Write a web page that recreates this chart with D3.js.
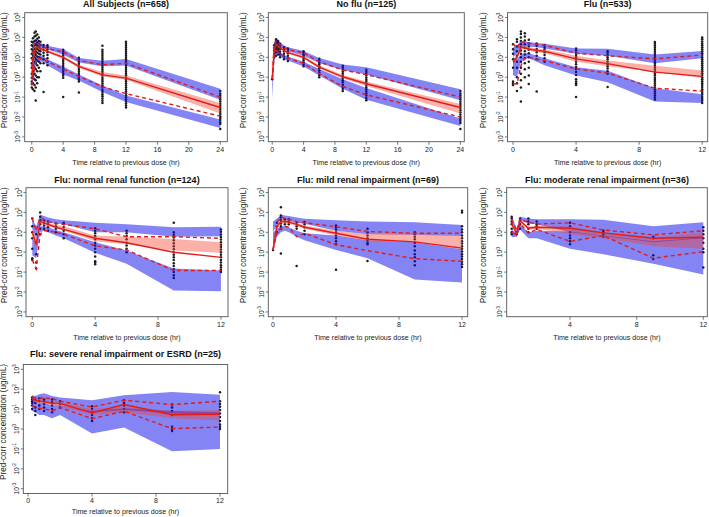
<!DOCTYPE html>
<html><head><meta charset="utf-8">
<script src="https://cdn.jsdelivr.net/npm/d3@7"></script>
<style>body{margin:0;background:#fff} svg{display:block}</style>
</head><body><svg id="c" width="709" height="517"></svg>
<script>
// ---------------- DATA ----------------
const panelTitles = [
  "All Subjects (n=658)", "No flu (n=125)", "Flu (n=533)",
  "Flu: normal renal function (n=124)", "Flu: mild renal impairment (n=69)",
  "Flu: moderate renal impairment (n=36)", "Flu: severe renal impairment or ESRD (n=25)"
];
const xDomains = [[-0.9,24.9],[-0.5,24.5],[-0.35,12.35],[-0.4,12.45],[-0.3,12.36],[0.2,12.24],[-0.3,12.48]];
const xTicks = [[0,4,8,12,16,20,24],[0,4,8,12,16,20,24],[0,4,8,12],[0,4,8,12],[0,4,8,12],[4,8,12],[0,4,8,12]];
const yTickExps = [-3,-2,-1,0,1,2,3];
const xLabel = "Time relative to previous dose (hr)";
const yLabel = "Pred-corr concentration (ug/mL)";

const binTimes = [
  [0,0.25,0.5,0.75,1,1.5,2,4,6,9,12,24],
  [0,0.25,0.5,0.75,1,1.5,2,4,6,9,12,24],
  [0,0.25,0.5,0.75,1,1.5,2,4,6,9,12],
  [0,0.25,0.5,0.75,1,1.5,2,4,6,9,12],
  [0,0.25,0.5,0.75,1,1.5,2,4,6,9,12],
  [0.5,0.8,1,1.5,2,4,6,9,12],
  [0.25,0.45,0.7,1,1.5,2,4,6,9,12]
];
const obsMedian = [
  [0.8,12,30,32,28,24,20,10,3.5,1.3,0.9,0.03],
  [0.8,25,45,38,30,22,17,10,3.2,1.05,0.47,0.03],
  [5.6,10,32,30,26,22,20,8.3,4.8,1.8,1.1],
  [10,2.5,35,30,25,18,14,5,3,1,0.55],
  [1.3,20,35,35,33,25,18,9,4.5,3.3,1.6],
  [26,8.5,38,16,18,16,9.3,5,5.6],
  [34,28,25,23,19,19,6.5,17,5.2,5.5]
];
const obsP95 = [
  [3,40,55,50,42,32,27,19,7,4.2,5,0.1],
  [0.8,45,65,55,42,30,24,17,6,2.3,1.35,0.1],
  [50,28,60,55,50,45,40,16,12,8.3,13],
  [50,12,55,42,35,28,25,15,6,6,5],
  [1.3,30,60,50,45,35,30,19,11,8.9,8.9],
  [46,12,45,32,26,30,13,7.4,12],
  [41,37,36,35,34,25,12.7,28,16.7,25]
];
const obsP5 = [
  [0.4,1.5,6,9,9,8,6,2.6,1.1,0.33,0.15,0.011],
  [0.8,10,22,18,15,11,9,5,1.5,0.34,0.13,0.01],
  [0.45,0.47,3.8,9,10,8,6.8,2.6,1.6,0.28,0.2],
  [0.4,0.15,8,12,12,10,8,2.1,1.3,0.12,0.12],
  [1.3,10,15,20,18,6,9,2.4,1.2,0.47,0.35],
  [10,7,28,9,14,3.5,6.8,0.5,1.07],
  [15.5,12.7,11,10.5,8,12,3.3,7.8,1.04,1.26]
];
const ciP95Lo = [
  [1.5,25,45,40,35,28,25,13.5,5.4,3.6,3.9,0.074],
  [0.5,35,55,45,35,26,21,12,5,2.3,1.35,0.07],
  [10,15,35,35,35,32,28,15,12,5,9],
  [15,5,40,35,30,28,25,10,10,6,6.3],
  [10,25,45,40,38,30,27,12,8,7.5,6.5],
  [30,10,40,28,25,10,6.5,3.2,5],
  [22,22,22,22,20,18,7,9,6,5]
];
const ciP95Hi = [
  [5,60,80,70,55,45,38,26,9.3,6.8,8.3,0.26],
  [0.9,60,85,70,55,40,32,21,9.3,4.3,3.2,0.25],
  [30,40,65,62,58,52,48,28,27,14,21],
  [45,20,75,65,55,45,40,30,25,18,19],
  [35,50,75,70,65,55,48,40,35,32,23],
  [68,15,60,50,45,45,43,20,32],
  [50,45,55,62,45,38,28,49,72,52]
];
const ciP5Lo = [
  [0.3,1,4,6,6,6,4,1.35,0.68,0.18,0.056,0.0028],
  [0.08,6,15,13,11,8,7,3.4,1.2,0.26,0.074,0.0035],
  [1.3,1,6,8,9,6,4,1.2,0.55,0.06,0.05],
  [0.7,0.5,10,12,10,7,5,0.93,0.26,0.012,0.011],
  [1.2,6,10,12,10,6,4,1.3,0.5,0.043,0.03],
  [5.6,6,14,5,5,1.5,0.8,0.26,0.076],
  [8,7,5,5,3.5,5,0.6,1.2,0.076,0.1]
];
const ciP5Hi = [
  [1,4,10,12,12,11,8,3.4,1.35,0.38,0.12,0.0075],
  [0.5,14,28,22,18,13,11,6,2.6,0.8,0.29,0.0085],
  [10,8,14,16,16,12,9,3.2,2.1,0.28,0.14],
  [5,3,20,20,18,13,10,3.2,1.2,0.15,0.12],
  [10,15,20,20,18,12,9,7,4,3.2,1.4],
  [14,9,25,10,12,11,7,3.6,5.5],
  [24,22,20,20,15,16,8,11,8,7]
];
const ciMedLo = [
  [0.6,9,25,27,24,20,17,8.2,2.9,1.07,0.74,0.015],
  [0.7,20,38,32,26,19,15,8.5,2.7,0.85,0.36,0.015],
  [4,7,25,24,21,18,16,6,3.5,1.8,0.9],
  [5,1.5,25,22,19,15,12,3.5,2.5,1.2,0.93],
  [1.1,15,28,28,27,20,15,7,3.7,3.2,1.4],
  [20,7,30,13,15,8,5,2,1.5],
  [28,22,19,18,15,14,5,7,3.5,2.7]
];
const ciMedHi = [
  [1.1,16,36,37,33,28,23,12,4.2,1.8,1.2,0.05],
  [0.9,30,52,44,35,26,20,12,4,1.3,0.6,0.045],
  [8,14,40,38,33,28,25,12,7,3.8,2.2],
  [15,5,40,35,30,24,20,7,6,4.6,3.2],
  [1.5,25,42,42,40,30,22,12,8,8.5,6.8],
  [32,10,45,20,22,20,10,5.5,10],
  [40,35,31,28,23,22,10,14,8,9]
];
// observed points: [time, [concentrations]]
const obsPoints = [
  [ [0,[0.3,0.45,0.6,0.9,1.5,3,5,9,15,25,40,60]],
    [0.15,[0.25,0.5,1,2,4,7,12,20,35,55,90]],
    [0.35,[0.2,0.4,0.8,1.5,3,6,10,16,25,40,65,110,170]],
    [0.5,[0.068,0.3,0.7,1.2,2.5,5,8,13,20,30,45,70,120,200]],
    [0.7,[0.5,1,2,4,7,11,17,26,38,55,85,140]],
    [0.9,[1,3,6,10,15,22,32,45,65,100]],
    [1.1,[2,5,9,14,20,28,40,60]],
    [1.5,[0.18,5,8,12,17,23,32,42]],
    [2,[4,6,9,13,18,24,32,40]],
    [4,[0.1,0.95,1.2,1.5,1.9,2.4,3,3.8,4.8,6,7.5,9.5,12,15,19,24]],
    [6,[0.17,0.6,0.75,0.95,1.2,1.5,1.9,2.4,3,3.8,4.8,6,7.5,9.5]],
    [9,[0.05,0.065,0.085,0.11,0.14,0.18,0.23,0.3,0.38,0.48,0.6,0.75,0.95,1.2,1.5,1.9,2.4,3,3.8,4.8,6,7.5,9.5,12,15,19,24,38]],
    [12,[0.03,0.038,0.048,0.06,0.075,0.095,0.12,0.15,0.19,0.24,0.3,0.38,0.48,0.6,0.75,0.95,1.2,1.5,1.9,2.4,3,3.8,4.8,6,7.5,9.5,12,15,19,24,30,38,48,60]],
    [24,[0.0025,0.0045,0.0055,0.007,0.009,0.011,0.014,0.018,0.023,0.029,0.037,0.047,0.06,0.075,0.095,0.12,0.15,0.2]] ],
  [ [0,[0.8]],
    [0.25,[10,15,22,30,40]],
    [0.5,[12,18,25,32,40,50,60,70,80]],
    [0.75,[14,20,27,35,45,55,65]],
    [1,[10,14,19,25,32,40,48]],
    [1.5,[8,11,15,20,26,32]],
    [2,[6.5,9,12,16,20,25,28]],
    [4,[3.5,4.5,5.5,7,8.5,10,12,14,17,20]],
    [6,[1,1.3,1.7,2.2,2.8,3.5,4.5,5.5,7,8.5]],
    [9,[0.2,0.26,0.33,0.42,0.55,0.7,0.9,1.15,1.5,1.9,2.4,3,3.8]],
    [12,[0.07,0.09,0.12,0.15,0.19,0.24,0.3,0.38,0.48,0.6,0.75,0.95,1.2,1.5,1.9,2.4]],
    [24,[0.0025,0.005,0.0065,0.008,0.01,0.013,0.017,0.022,0.028,0.036,0.045,0.058,0.075,0.095,0.12,0.15,0.2]] ],
  [ [0,[0.4,0.5,0.6,3,8,15,25,45]],
    [0.25,[0.2,0.5,1,3,6,12,20,35,60,80]],
    [0.5,[0.06,0.3,0.7,1.5,3,6,10,15,22,32,45,65,100,150,200]],
    [0.75,[1,2.5,5,9,14,20,30,45,70,110,160]],
    [1,[0.46,1.2,3,6,10,16,24,35,50,75]],
    [1.5,[0.19,8,12,18,26,38,50]],
    [2,[6,9,13,18,25,33,42]],
    [4,[0.1,0.4,0.5,0.6,0.8,1.3,1.8,2.5,3.3,4.5,6,8,10,13,17,22,28]],
    [6,[0.32,1.5,2,2.7,3.5,4.5,6,8,10,13,17,20]],
    [9,[0.075,0.095,0.12,0.15,0.19,0.24,0.3,0.38,0.48,0.6,0.75,0.95,1.2,1.5,1.9,2.4,3,3.8,4.8,6,7.5,9.5,12,15,19,24,30,38,48,58]],
    [12,[0.05,0.065,0.08,0.1,0.13,0.16,0.2,0.25,0.32,0.4,0.5,0.63,0.8,1,1.3,1.6,2,2.5,3.2,4,5,6.3,8,10,13,16,20,25,32,40,50,63,80,100]] ],
  [ [0,[0.4,0.5,1.5,5,10,20,50]],
    [0.25,[0.15,0.3,0.8,3,8]],
    [0.5,[8,15,25,40,60,100]],
    [0.75,[15,22,30,40]],
    [1,[12,18,25,35]],
    [1.5,[10,15,20,28]],
    [2,[5,8,12,18,25,30]],
    [4,[0.25,0.3,0.35,0.6,1,1.5,2.2,3,4.5,6.5,9,12,16]],
    [6,[1,1.5,2.2,3,4.5,6.5,9,12]],
    [9,[0.05,0.07,0.1,0.14,0.2,0.28,0.4,0.55,0.75,1,1.4,2,2.8,4,5.5,7.5,10,30]],
    [12,[0.1,0.13,0.17,0.22,0.3,0.4,0.55,0.75,1,1.35,1.8,2.4,3.2,4.3,5.8,7.8,10.5,14]] ],
  [ [0,[1.3]],
    [0.25,[10,20,30]],
    [0.5,[0.85,15,20,28,40,55,70,180]],
    [0.75,[25,35,45]],
    [1,[25,35,45]],
    [1.5,[0.2,15,20,30]],
    [2,[8,12,18,25,33]],
    [4,[0.13,2.5,3.5,5,7,10,14,18,22]],
    [6,[0.36,2.5,3,4,5,7,10,15]],
    [9,[0.22,0.35,0.55,0.8,1.2,2,3,4.5,6,8,10]],
    [12,[0.18,0.25,0.33,0.45,0.6,0.8,1.1,1.5,2,2.7,3.6,5,7,10,14,20,100,120]] ],
  [ [0.5,[8,10,15,25,35,50,60]],
    [0.8,[8,10]],
    [1,[15,25,40,50]],
    [1.5,[10,15,25,35,50]],
    [2,[15,20,25,35]],
    [4,[2.5,3.5,5,7,10,20,30]],
    [6,[6,8,10,12]],
    [9,[0.45,0.7,5,6]],
    [12,[0.17,1,1.5,3,5,8,12,18]] ],
  [ [0.25,[10,15,20,25,30,38]],
    [0.45,[5,8,12,20,30]],
    [0.7,[10,15,25,35]],
    [1,[8,12,18,25,30]],
    [1.5,[7,10,15,22,30]],
    [2,[12,18,25]],
    [4,[2.5,3.5,5,7,10,14]],
    [6,[7,10,15,20,28]],
    [9,[0.8,1,1.3,5,8,12,17]],
    [12,[1,1.3,1.7,2.5,4,6,9,13,18,25,70]] ]
];

// ---------------- LAYOUT ----------------
const boxes = [
  [24.7,12.7,227.3,141.7],[268.3,12.7,464.3,141.7],[507.5,12.7,707.7,141.7],
  [26,187.7,228,316.7],[268.3,187.7,467.7,316.7],[506.7,187.7,707.3,316.7],
  [23.3,364.5,227.7,493.5]
];
const titleY = [7.3,7.3,7.3,182.5,182.5,182.5,357];
const xTickLabDy = [10.5,10.5,10.5,10.5,10.5,10.5,9.5];
const xLabDy = [23,23,23,23,23,23,20];
const ylabX = [7,245.5,486,6.5,245.5,486,5.5];
const FONT = "'Liberation Sans', Arial, Helvetica, sans-serif";
const BLUE = "rgb(10,10,235)", PINK = "rgb(240,70,50)", RED = "rgb(226,28,24)", AXIS = "#555";

const svg = d3.select('#c');
svg.append('rect').attr('width',709).attr('height',517).attr('fill','#fff');
const defs = svg.append('defs');

panelTitles.forEach((title,i)=>{
  const [x0,y0,x1,y1] = boxes[i];
  const x = d3.scaleLinear().domain(xDomains[i]).range([x0,x1]);
  const y = d3.scaleLog().domain([Math.pow(10,-3.24),Math.pow(10,3.24)]).range([y1,y0]);
  const g = svg.append('g');
  defs.append('clipPath').attr('id','clip'+i).append('rect')
    .attr('x',x0).attr('y',y0).attr('width',x1-x0).attr('height',y1-y0);
  const plot = g.append('g').attr('clip-path',`url(#clip${i})`);

  const pts = [];
  obsPoints[i].forEach(([t,vals])=>vals.forEach(v=>pts.push([t,v])));
  plot.append('g').selectAll('circle').data(pts).join('circle')
    .attr('cx',d=>x(d[0])).attr('cy',d=>y(d[1])).attr('r',1.25).attr('fill','#1c1c1c');

  const T = binTimes[i];
  const band = (lo,hi)=> d3.area().x((d,k)=>x(T[k])).y0((d,k)=>y(lo[k])).y1((d,k)=>y(hi[k]))(T);
  plot.append('path').attr('d',band(ciP95Lo[i],ciP95Hi[i])).attr('fill',BLUE).attr('fill-opacity',0.5);
  plot.append('path').attr('d',band(ciP5Lo[i],ciP5Hi[i])).attr('fill',BLUE).attr('fill-opacity',0.5);
  plot.append('path').attr('d',band(ciMedLo[i],ciMedHi[i])).attr('fill',PINK).attr('fill-opacity',0.42);

  const line = arr => d3.line().x((d,k)=>x(T[k])).y((d,k)=>y(arr[k]))(T);
  plot.append('path').attr('d',line(obsMedian[i])).attr('fill','none').attr('stroke',RED).attr('stroke-width',1.4);
  [obsP5[i],obsP95[i]].forEach(a=>plot.append('path').attr('d',line(a)).attr('fill','none')
    .attr('stroke',RED).attr('stroke-width',1.4).attr('stroke-dasharray','4,3'));

  // box
  g.append('rect').attr('x',x0).attr('y',y0).attr('width',x1-x0).attr('height',y1-y0)
    .attr('fill','none').attr('stroke',AXIS).attr('stroke-width',0.9);

  // x axis
  xTicks[i].forEach(t=>{
    const xp = x(t);
    g.append('line').attr('x1',xp).attr('x2',xp).attr('y1',y1).attr('y2',y1+3).attr('stroke',AXIS).attr('stroke-width',0.8);
    g.append('text').attr('x',xp).attr('y',y1+xTickLabDy[i]).attr('text-anchor','middle')
      .attr('font-family',FONT).attr('font-size',7).attr('fill','#222').text(t);
  });
  // y axis
  yTickExps.forEach(e=>{
    const yp = y(Math.pow(10,e));
    g.append('line').attr('x1',x0-2.5).attr('x2',x0).attr('y1',yp).attr('y2',yp).attr('stroke',AXIS).attr('stroke-width',0.8);
    const tx = g.append('text').attr('transform',`translate(${x0-4.5},${yp}) rotate(-90)`)
      .attr('text-anchor','middle').attr('font-family',FONT).attr('font-size',6.6).attr('fill','#222');
    tx.append('tspan').text('10');
    tx.append('tspan').attr('dy',-2.6).attr('font-size',4.8).text(e);
  });
  // labels
  g.append('text').attr('x',(x0+x1)/2).attr('y',y1+xLabDy[i]).attr('text-anchor','middle')
    .attr('font-family',FONT).attr('font-size',7.1).attr('fill','#222').text(xLabel);
  g.append('text').attr('transform',`translate(${ylabX[i]},${(y0+y1)/2-7}) rotate(-90)`)
    .attr('text-anchor','middle').attr('font-family',FONT).attr('font-size',8.2).attr('fill','#222').text(yLabel);
  g.append('text').attr('x',(x0+x1)/2).attr('y',titleY[i]).attr('text-anchor','middle')
    .attr('font-family',FONT).attr('font-size',9).attr('font-weight','bold').attr('fill','#111').text(title);
});
</script>
</body></html>
